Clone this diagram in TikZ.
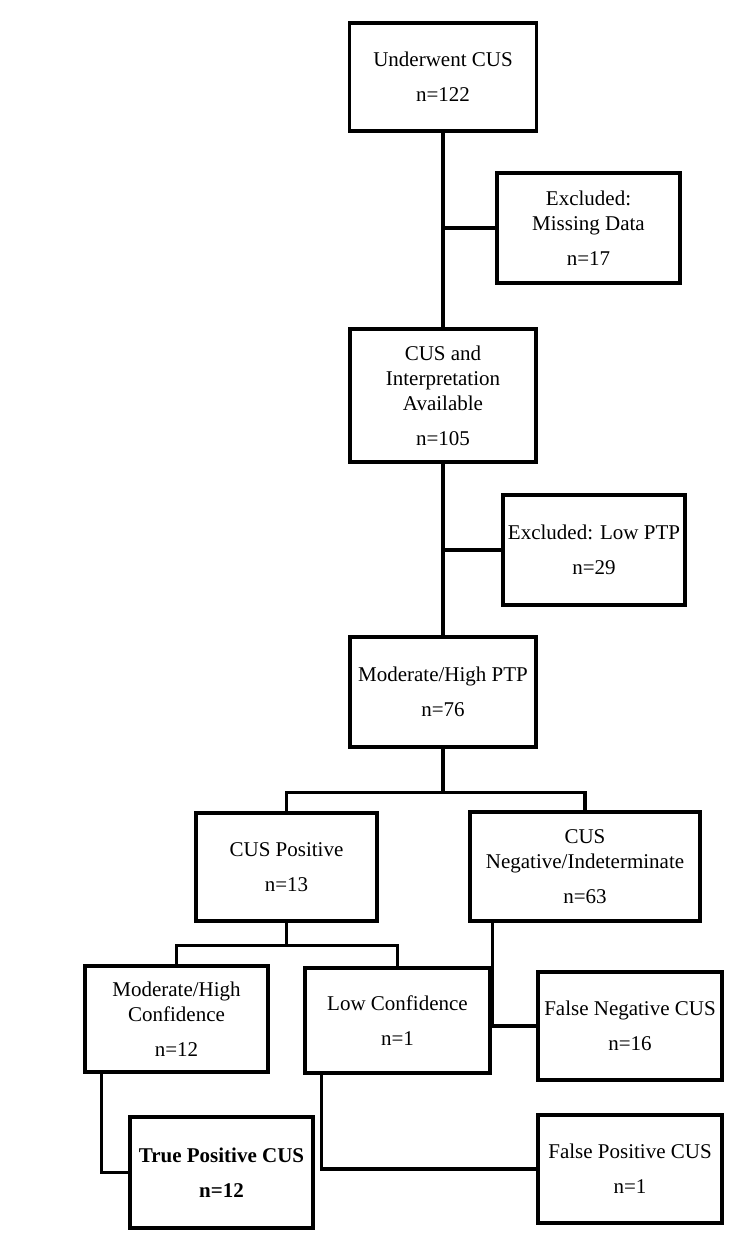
\documentclass[tikz,border=0pt]{standalone}
\usepackage{fontspec}
\setmainfont{Liberation Serif}

\tikzset{
  box/.style={draw, line width=3.2pt, align=center, inner sep=0pt,
    font=\fontsize{21}{25}\selectfont},
  link/.style={line width=3.2pt},
}

\begin{document}
\begin{tikzpicture}[x=1pt, y=-1pt]
\useasboundingbox[fill=white] (0,0) rectangle (739,1237);

% Main column
\node[box, minimum width=187, minimum height=108] (under) at (443,77) {Underwent CUS\\[10pt] n=122};
\node[box, minimum width=186, minimum height=133] (avail) at (443,395.5) {CUS and\\ Interpretation\\ Available\\[10pt] n=105};
\node[box, minimum width=186, minimum height=110] (modptp) at (443,692) {Moderate/High PTP\\[10pt] n=76};

% Exclusions
\node[box, minimum width=183, minimum height=110] (missing) at (588.5,228) {Excluded:\\ Missing Data\\[10pt] n=17};
\node[box, minimum width=182, minimum height=110] (lowptp) at (594,550) {Excluded: Low PTP\\[10pt] n=29};

% Split by CUS result
\node[box, minimum width=181, minimum height=108] (cuspos) at (286.5,867) {CUS Positive\\[10pt] n=13};
\node[box, minimum width=230, minimum height=109] (cusneg) at (585,866.5) {CUS\\ Negative/Indeterminate\\[10pt] n=63};

% Confidence and outcomes
\node[box, minimum width=183, minimum height=106] (modconf) at (176.5,1019) {Moderate/High\\ Confidence\\[10pt] n=12};
\node[box, minimum width=185, minimum height=105] (lowconf) at (397.5,1020.5) {Low Confidence\\[10pt] n=1};
\node[box, minimum width=184, minimum height=108] (falseneg) at (630,1026) {False Negative CUS\\[10pt] n=16};
\node[box, minimum width=183, minimum height=111, font=\fontsize{21}{25}\selectfont\bfseries] (truepos) at (221.5,1172.5) {True Positive CUS\\[10pt] n=12};
\node[box, minimum width=184, minimum height=108] (falsepos) at (630,1169) {False Positive CUS\\[10pt] n=1};

% Connectors
\draw[link] (under) -- (avail);
\draw[link] (avail) -- (modptp);
\draw[link] (missing.west) -- (missing.west -| under.south);
\draw[link] (lowptp.west) -- (lowptp.west -| avail.south);
\draw[link] (modptp.south) -- ++(0,44) coordinate (split1);
\draw[link] (cuspos.north) |- (split1) -| (cusneg.north);
\draw[link] (cuspos.south) -- ++(0,23) coordinate (split2);
\draw[link] (modconf.north) |- (split2) -| (lowconf.north);
\draw[link] ([xshift=24pt]cusneg.south west) |- (falseneg.west);
\draw[link] ([xshift=18pt]modconf.south west) |- (truepos.west);
\draw[link] ([xshift=18pt]lowconf.south west) |- (falsepos.west);
\end{tikzpicture}
\end{document}
